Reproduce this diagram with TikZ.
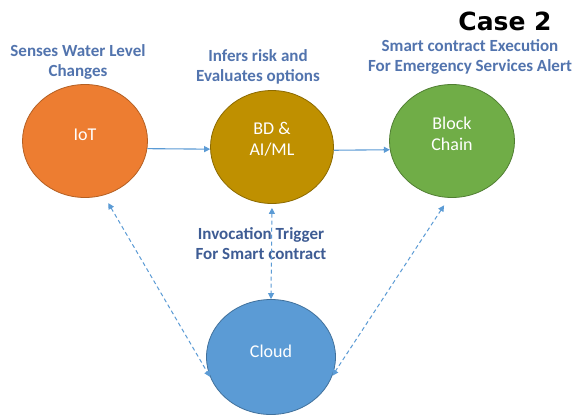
\documentclass[tikz,border=0pt]{standalone}
\usepackage{fontspec}
\setmainfont{Carlito}
\newfontfamily\casefont{DejaVu Sans}
\usetikzlibrary{shapes.geometric,arrows.meta}
\definecolor{iotfill}{HTML}{ED7D31}
\definecolor{iotline}{HTML}{B45F22}
\definecolor{bdfill}{HTML}{BF9000}
\definecolor{bdline}{HTML}{8C6A00}
\definecolor{bcfill}{HTML}{70AD47}
\definecolor{bcline}{HTML}{507E32}
\definecolor{cloudfill}{HTML}{5B9BD5}
\definecolor{cloudline}{HTML}{41719C}
\definecolor{arrowblue}{HTML}{5B9BD5}
\definecolor{lblblue}{HTML}{5274AE}
\definecolor{trigblue}{HTML}{3E5C94}
\begin{document}
\begin{tikzpicture}[x=1pt,y=-1pt,
  blob/.style={ellipse, minimum width=125pt, minimum height=113pt, inner sep=0pt,
    line width=0.8pt},
  intext/.style={text=white, font=\fontsize{18}{21}\selectfont, align=center, inner sep=0pt},
  lbl/.style={text=lblblue, font=\bfseries\fontsize{17}{20}\selectfont, align=center},
  flow/.style={draw=arrowblue, line width=1.1pt, -{Triangle[length=6pt,width=6pt]}},
  link/.style={draw=arrowblue, line width=1pt, dash pattern=on 4pt off 3pt,
    {Triangle[length=6pt,width=6pt]}-{Triangle[length=6pt,width=6pt]}}]
\useasboundingbox (0,0) rectangle (576,416);
\fill[white] (0,0) rectangle (576,416);

\node[blob, fill=iotfill, draw=iotline] (iot) at (85,141) {};
\node[blob, fill=bdfill, draw=bdline, minimum width=123pt] (bd) at (272,147) {};
\node[blob, fill=bcfill, draw=bcline] (bc) at (452,141) {};
\node[blob, fill=cloudfill, draw=cloudline, minimum width=129pt, minimum height=115pt] (cloud) at (271,357) {};

\node[intext] (iott) at ([yshift=6pt]iot.center) {IoT};
\node[intext] (bdt) at ([yshift=8pt]bd.center) {BD \&\\AI/ML};
\node[intext] (bct) at ([yshift=7pt]bc.center) {Block\\Chain};
\node[intext] (cloudt) at ([yshift=6pt]cloud.center) {Cloud};

\node[lbl] (l1) at (78,62) {Senses Water Level\\Changes};
\node[lbl] (l2) at (258,67) {Infers risk and\\Evaluates options};
\node[lbl] (l3) at (470,57) {Smart contract Execution\\For Emergency Services Alert};
\node[lbl, text=trigblue] (l4) at (261,244) {Invocation Trigger\\For Smart contract};
\node[font=\casefont\bfseries\fontsize{25}{28}\selectfont, text=black] (case) at (505,21) {Case 2};

\draw[flow] (iot.-7) -- (bd.182);
\draw[flow] (bd.-3) -- (bc.188);

\draw[link, shorten <=9pt, shorten >=0pt] (iot.-71) -- (cloud.198);
\draw[link, shorten <=4pt] (bd.south) -- (cloud.north);
\draw[link, shorten <=9pt, shorten >=0pt] (bc.-93) -- (cloud.-17);
\end{tikzpicture}
\end{document}
